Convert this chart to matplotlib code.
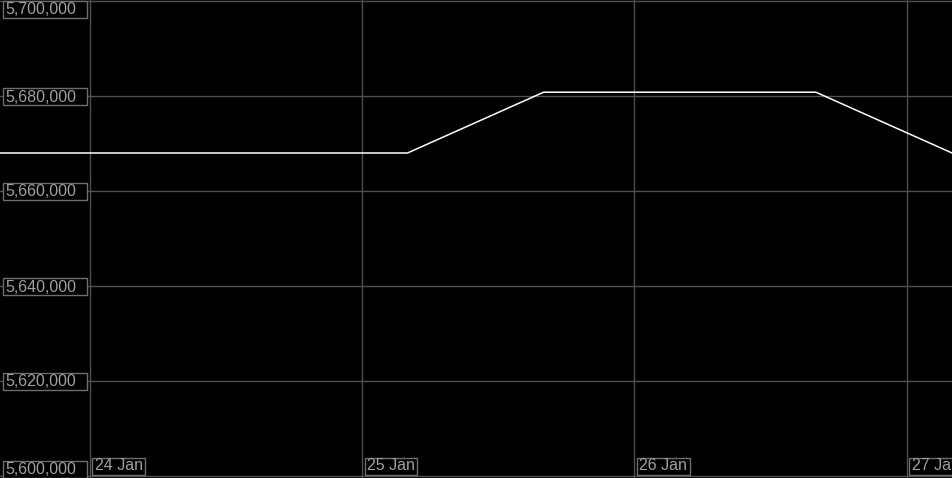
import matplotlib
matplotlib.use("Agg")
import matplotlib.pyplot as plt
import matplotlib.dates as mdates
from matplotlib.patches import Rectangle
from matplotlib.transforms import IdentityTransform
import datetime as dt

# ---- data ----
times = ["2024-01-23 16:00", "2024-01-24 04:00", "2024-01-24 16:00", "2024-01-25 04:00",
         "2024-01-25 16:00", "2024-01-26 04:00", "2024-01-26 16:00", "2024-01-27 04:00"]
values = [5668000, 5668000, 5668000, 5668000, 5680800, 5680800, 5680800, 5668000]
y_ticks = [5600000, 5620000, 5640000, 5660000, 5680000, 5700000]
x_ticks = ["2024-01-24", "2024-01-25", "2024-01-26", "2024-01-27"]
x_tick_labels = ["24 Jan", "25 Jan", "26 Jan", "27 Jan"]

W, H = 953, 478
TEXT = "#a0a0a0"
BOX = "#6e6e6e"
GRID = "#505050"
FONT = "Liberation Sans"

fig = plt.figure(figsize=(W / 100, H / 100), dpi=100, facecolor="black")
ax = fig.add_axes([0, 0, 1, 1], facecolor="black")

t = [dt.datetime.strptime(s, "%Y-%m-%d %H:%M") for s in times]
tx = [dt.datetime.strptime(s, "%Y-%m-%d") for s in x_ticks]

pad = dt.timedelta(minutes=5)
ax.set_xlim(t[0] + pad, t[-1] + pad)
per_px = 100000 / 475.0
ax.set_ylim(5600000 - 2 * per_px, 5700000 + 1 * per_px)

for v in y_ticks:
    ax.axhline(v, color=GRID, lw=1, zorder=1)
for d in tx:
    ax.axvline(d, color=GRID, lw=1, zorder=1)

ax.plot(t, values, color="white", lw=1.1, zorder=3)

for s in ax.spines.values():
    s.set_visible(False)
ax.set_xticks([])
ax.set_yticks([])

fig.canvas.draw()
ident = IdentityTransform()

# y labels (fixed-width boxes inside the axes)
for v in y_ticks:
    _, yp = ax.transData.transform((mdates.date2num(t[1]), v))  # display px from bottom
    top = yp + 8
    bot = yp - 9
    if top > H - 0.5:
        shift = top - (H - 0.5)
        top -= shift; bot -= shift
    if bot < 0.5:
        shift = 0.5 - bot
        top += shift; bot += shift
    fig.add_artist(Rectangle((3.0, bot), 84, top - bot, transform=ident,
                             facecolor="black", edgecolor=BOX, lw=1, zorder=5))
    fig.text(5.0, (top + bot) / 2 - 0.5, f"{v:,}", transform=ident, color=TEXT,
             fontsize=11.5, family=FONT, ha="left", va="center", zorder=6)

# x labels
for d, lab in zip(tx, x_tick_labels):
    xp, _ = ax.transData.transform((mdates.date2num(d), 5600000))
    txt = fig.text(xp + 5, 4.5, lab, transform=ident, color=TEXT, fontsize=11.5,
                   family=FONT, ha="left", va="bottom", zorder=6)
    bb = txt.get_window_extent(renderer=fig.canvas.get_renderer())
    fig.add_artist(Rectangle((xp + 2.5, 3.5), bb.width + 5, 17, transform=ident,
                             facecolor="black", edgecolor=BOX, lw=1, zorder=5))

fig.savefig("out.png", dpi=100, facecolor="black")
